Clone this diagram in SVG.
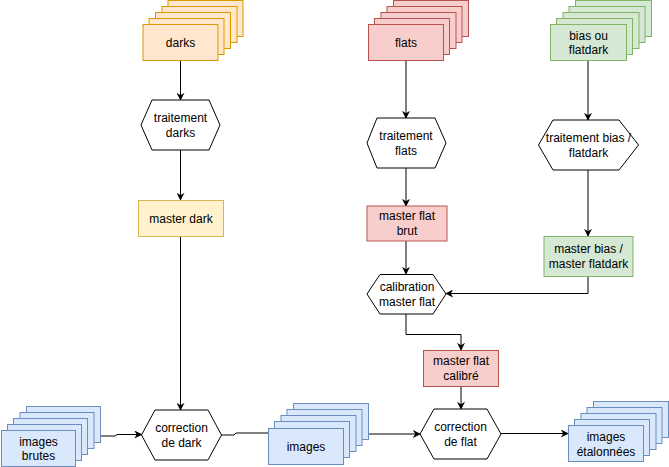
<svg xmlns="http://www.w3.org/2000/svg" width="669" height="467" viewBox="0 0 669 467">
<defs>
<style>
text{font-family:"Liberation Sans",Arial,Helvetica,sans-serif;font-size:12px;fill:#000;text-anchor:middle;dominant-baseline:central}
.or{fill:#ffe6cc;stroke:#d79b00}
.ye{fill:#fff2cc;stroke:#d6b656}
.re{fill:#f8cecc;stroke:#b85450}
.gr{fill:#d5e8d4;stroke:#82b366}
.bl{fill:#dae8fc;stroke:#6c8ebf}
.hx{fill:#fff;stroke:#000}
.c{fill:none;stroke:#000;stroke-width:1}
.a{marker-end:url(#ar)}
</style>
<marker id="ar" viewBox="0 0 10 10" refX="9" refY="5" markerWidth="8" markerHeight="8" markerUnits="userSpaceOnUse" orient="auto">
<path d="M0,0 L10,5 L0,10 L3,5 z" fill="#000"/>
</marker>
</defs>
<rect width="669" height="467" fill="#fff"/>

<g id="connectors">
<path class="c a" d="M180.5,61 V100"/>
<path class="c a" d="M180.5,150 V200"/>
<path class="c a" d="M180.5,237 V410"/>
<path class="c a" d="M406,61 V118"/>
<path class="c a" d="M406,168 V206"/>
<path class="c a" d="M406,241 V274"/>
<path class="c a" d="M588,61 V120"/>
<path class="c a" d="M588,170 V236"/>
<path class="c a" d="M588,277 V293.5 H446"/>
<path class="c a" d="M406,314 V334.5 H461 V350"/>
<path class="c a" d="M461,387 V409"/>
<path class="c a" d="M89,436 H115 L117,434.5 H141.5"/>
<path class="c" d="M221.5,435 H234 L236,433 H268"/>
<path class="c a" d="M356,434 H420"/>
<path class="c a" d="M501,433.5 H568"/>
</g>

<g id="darks">
<rect class="or" x="168" y="0.5" width="75" height="36"/>
<rect class="or" x="162" y="6.5" width="75" height="36"/>
<rect class="or" x="155.5" y="12.5" width="75" height="36"/>
<rect class="or" x="149" y="18.5" width="75" height="36"/>
<rect class="or" x="143" y="24.5" width="75" height="36"/>
<text x="180.5" y="42.5">darks</text>
</g>

<g id="flats">
<rect class="re" x="393.5" y="0.5" width="75" height="36"/>
<rect class="re" x="387" y="6.5" width="75" height="36"/>
<rect class="re" x="381" y="12.5" width="75" height="36"/>
<rect class="re" x="374.5" y="18.5" width="75" height="36"/>
<rect class="re" x="368.5" y="24.5" width="75" height="36"/>
<text x="406" y="42.5">flats</text>
</g>

<g id="bias">
<rect class="gr" x="575.5" y="0.5" width="76" height="36"/>
<rect class="gr" x="569" y="6.5" width="76" height="36"/>
<rect class="gr" x="563" y="12.5" width="76" height="36"/>
<rect class="gr" x="556.5" y="18.5" width="76" height="36"/>
<rect class="gr" x="550.5" y="24.5" width="76" height="36"/>
<text x="588.5" y="35.5">bias ou</text>
<text x="588.5" y="49.5">flatdark</text>
</g>

<g id="traitement-darks">
<polygon class="hx" points="141,125 152,100 209,100 220,125 209,150 152,150"/>
<text x="180.5" y="118">traitement</text>
<text x="180.5" y="133">darks</text>
</g>

<g id="traitement-flats">
<polygon class="hx" points="367,143 377,118 435,118 446,143 435,168 377,168"/>
<text x="406" y="136">traitement</text>
<text x="406" y="151">flats</text>
</g>

<g id="traitement-bias">
<polygon class="hx" points="538.5,145 553,120 619,120 638.5,145 619,170 553,170"/>
<text x="588.5" y="138">traitement bias /</text>
<text x="588.5" y="153">flatdark</text>
</g>

<g id="master-dark">
<rect class="ye" x="138.5" y="200.5" width="85" height="36"/>
<text x="181" y="218.5">master dark</text>
</g>

<g id="master-flat-brut">
<rect class="re" x="367" y="206" width="80" height="35"/>
<text x="407" y="216">master flat</text>
<text x="407" y="231">brut</text>
</g>

<g id="master-bias">
<rect class="gr" x="544" y="236.5" width="89" height="40"/>
<text x="588.5" y="249">master bias /</text>
<text x="588.5" y="264">master flatdark</text>
</g>

<g id="calibration">
<polygon class="hx" points="367,294 380,274.5 433,274.5 446,294 433,314 380,314"/>
<text x="407" y="287">calibration</text>
<text x="407" y="302">master flat</text>
</g>

<g id="master-flat-calibre">
<rect class="re" x="423.5" y="350.5" width="75" height="36"/>
<text x="461" y="361">master flat</text>
<text x="461" y="376">calibré</text>
</g>

<g id="images-brutes">
<rect class="bl" x="26.5" y="406.5" width="74" height="36"/>
<rect class="bl" x="20" y="412.5" width="74" height="36"/>
<rect class="bl" x="13.5" y="418.5" width="74" height="36"/>
<rect class="bl" x="7.5" y="424.5" width="74" height="36"/>
<rect class="bl" x="1.5" y="430.5" width="74" height="36"/>
<text x="38.5" y="441.5">images</text>
<text x="38.5" y="456">brutes</text>
</g>

<g id="correction-dark">
<polygon class="hx" points="141.5,435 155,410 208,410 221.5,435 208,460 155,460"/>
<text x="181.5" y="428">correction</text>
<text x="181.5" y="443">de dark</text>
</g>

<g id="images">
<rect class="bl" x="293.5" y="403.5" width="75" height="36"/>
<rect class="bl" x="287" y="409.5" width="75" height="36"/>
<rect class="bl" x="281" y="415.5" width="75" height="36"/>
<rect class="bl" x="274.5" y="421.5" width="75" height="36"/>
<rect class="bl" x="268.5" y="428.5" width="75" height="36"/>
<text x="306" y="446.5">images</text>
</g>

<g id="correction-flat">
<polygon class="hx" points="420,434 434,409 487,409 501,434 487,459 434,459"/>
<text x="460.5" y="427">correction</text>
<text x="460.5" y="442">de flat</text>
</g>

<g id="images-etalonnees">
<rect class="bl" x="593.5" y="401.5" width="75" height="36"/>
<rect class="bl" x="587" y="407.5" width="75" height="36"/>
<rect class="bl" x="581" y="413.5" width="75" height="36"/>
<rect class="bl" x="574.5" y="419.5" width="75" height="36"/>
<rect class="bl" x="568.5" y="425.5" width="75" height="36"/>
<text x="606" y="436.5">images</text>
<text x="606" y="451.5">étalonnées</text>
</g>
</svg>
